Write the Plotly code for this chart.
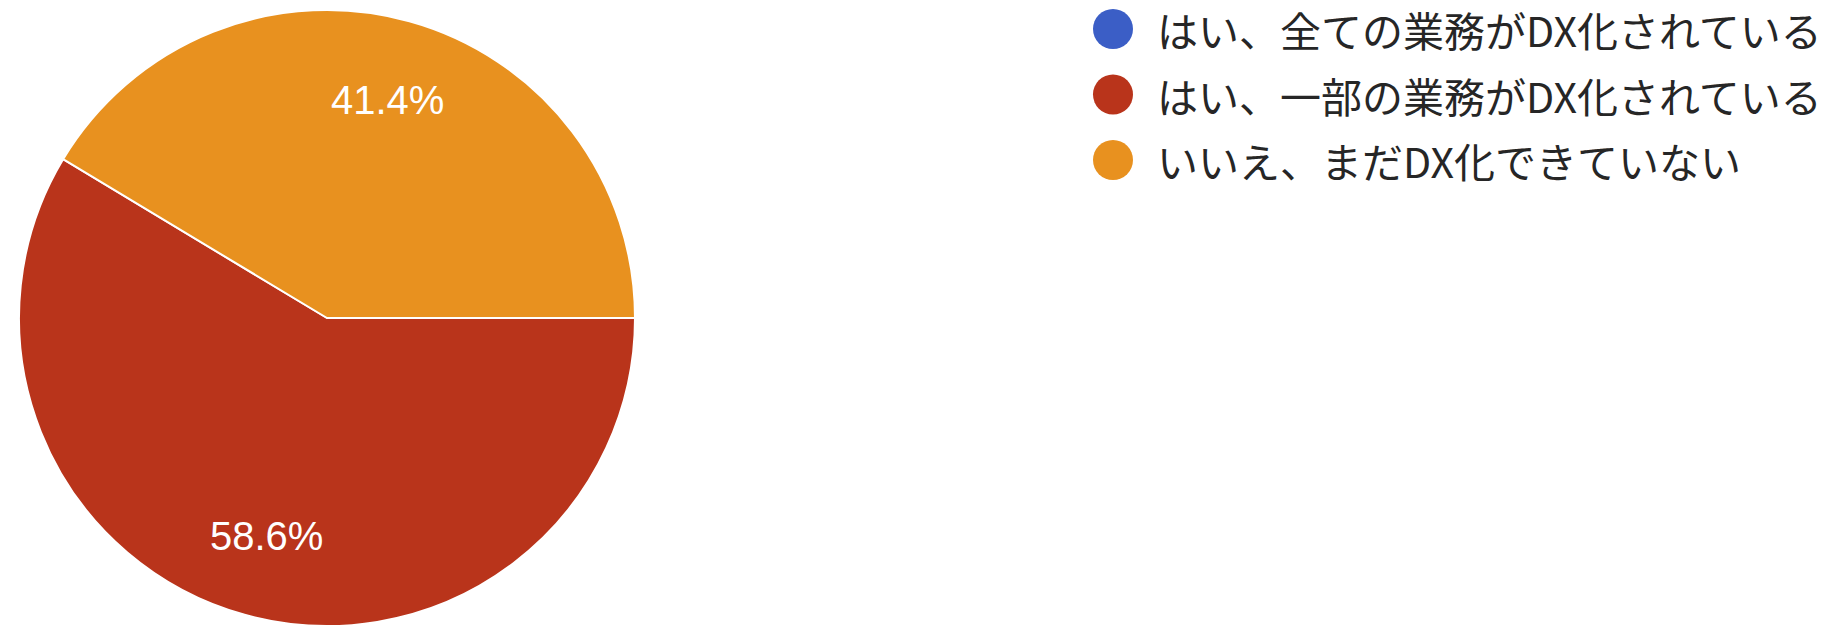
import math
import plotly.graph_objects as go

# Survey answers: has your company digitalised (DX) its operations?
labels = [
    "はい、全ての業務がDX化されている",
    "はい、一部の業務がDX化されている",
    "いいえ、まだDX化できていない",
]
counts = [0, 17, 12]
colors = ["#3b5ec6", "#b9341b", "#e8911f"]

W, H = 1834, 627

# Pie geometry in pixels
cx, cy, radius = 327, 318, 308
label_r = 0.735 * radius

fig = go.Figure()

fig.add_trace(go.Pie(
    labels=labels,
    values=counts,
    sort=False,
    direction="clockwise",
    rotation=90,
    marker=dict(colors=colors, line=dict(color="white", width=2)),
    textinfo="none",
    domain=dict(x=[(cx - radius) / W, (cx + radius) / W],
                y=[(H - cy - radius) / H, (H - cy + radius) / H]),
    showlegend=False,
    hoverinfo="label+percent",
))

# Percentage labels at each slice's mid-angle (slices run clockwise from 3 o'clock)
total = sum(counts)
start = 0.0
for c in counts:
    frac = c / total
    if c > 0:
        mid = start + frac / 2
        ang = -2 * math.pi * mid  # clockwise in screen terms
        px = cx + label_r * math.cos(ang)
        py = cy - label_r * math.sin(ang)
        fig.add_annotation(
            x=px / W, y=1 - py / H, xref="paper", yref="paper",
            text=f"{frac * 100:.1f}%", showarrow=False,
            xanchor="center", yanchor="middle",
            font=dict(family="Liberation Sans, Arial, sans-serif", size=40, color="white"),
        )
    start += frac

# Legend drawn as large round swatches with labels beside them
rows = list(range(len(labels)))
fig.add_trace(go.Scatter(
    x=[0] * len(labels),
    y=rows,
    mode="markers",
    marker=dict(symbol="circle", size=40, color=colors, line=dict(width=0)),
    xaxis="x",
    yaxis="y",
    showlegend=False,
    hoverinfo="skip",
))

for i, lab in enumerate(labels):
    fig.add_annotation(
        x=42, y=i, xref="x", yref="y",
        text=lab, showarrow=False,
        xanchor="left", yanchor="middle",
        font=dict(family="Noto Sans CJK JP, sans-serif", size=41, color="#262626"),
    )

row_px = 65.5
top = -29 / row_px
fig.update_layout(
    width=W, height=H,
    margin=dict(l=0, r=0, t=0, b=0),
    paper_bgcolor="white",
    plot_bgcolor="rgba(0,0,0,0)",
    xaxis=dict(domain=[1080 / W, 1.0], range=[-33, W - 1080 - 33],
               visible=False, fixedrange=True),
    yaxis=dict(domain=[0, 1], range=[top + H / row_px, top],
               visible=False, fixedrange=True),
)

fig.write_html("out.html")
